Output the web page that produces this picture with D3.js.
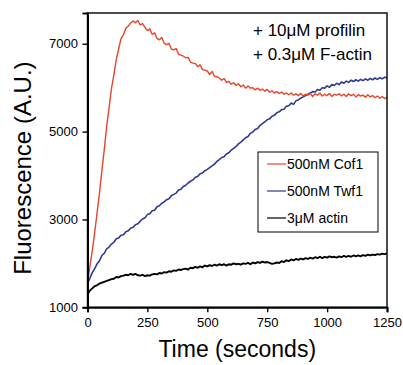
<!DOCTYPE html>
<html>
<head>
<meta charset="utf-8">
<script src="https://d3js.org/d3.v7.min.js"></script>
<style>
  body { margin: 0; background: #fff; }
  text { font-family: "Liberation Sans", Arial, Helvetica, sans-serif; }
</style>
</head>
<body>
<div id="vis"></div>
<script>
// sample times (seconds), one reading every 10 s
var times = d3.range(0, 1260, 10);

// 500nM Cof1
var cof1 = [
  1550, 1930, 2290, 2700, 3150, 3600, 4110, 4590, 5120, 5540,
  5980, 6290, 6640, 6880, 7120, 7210, 7350, 7400, 7470, 7520,
  7480, 7530, 7430, 7460, 7370, 7300, 7340, 7210, 7250, 7120,
  7090, 7140, 7010, 6980, 7010, 6880, 6860, 6890, 6760, 6740,
  6720, 6680, 6690, 6580, 6560, 6550, 6480, 6520, 6410, 6400,
  6380, 6300, 6370, 6260, 6250, 6220, 6170, 6210, 6120, 6140,
  6080, 6110, 6050, 6090, 6020, 6060, 5990, 6040, 5990, 6000,
  5950, 5990, 5940, 5970, 5920, 5960, 5900, 5930, 5880, 5910,
  5870, 5900, 5850, 5880, 5840, 5880, 5830, 5860, 5820, 5870,
  5810, 5850, 5830, 5870, 5800, 5860, 5830, 5880, 5810, 5850,
  5820, 5870, 5800, 5850, 5830, 5860, 5810, 5850, 5800, 5860,
  5820, 5850, 5790, 5840, 5810, 5830, 5780, 5840, 5790, 5820,
  5770, 5810, 5760, 5800, 5750, 5780
];

// 500nM Twf1
var twf1 = [
  1550, 1660, 1790, 1880, 1990, 2060, 2180, 2230, 2330, 2370,
  2440, 2480, 2560, 2580, 2640, 2650, 2720, 2740, 2800, 2820,
  2880, 2900, 2960, 3010, 3040, 3110, 3130, 3200, 3210, 3290,
  3310, 3370, 3400, 3450, 3470, 3540, 3570, 3600, 3670, 3690,
  3750, 3780, 3830, 3870, 3900, 3960, 3980, 4040, 4060, 4110,
  4140, 4180, 4220, 4260, 4320, 4360, 4410, 4430, 4490, 4520,
  4580, 4620, 4660, 4720, 4760, 4810, 4860, 4890, 4960, 4990,
  5050, 5070, 5140, 5180, 5220, 5270, 5290, 5350, 5370, 5430,
  5450, 5500, 5510, 5580, 5590, 5650, 5620, 5700, 5720, 5760,
  5790, 5820, 5850, 5880, 5910, 5900, 5960, 5940, 6000, 5990,
  6040, 6010, 6070, 6050, 6100, 6070, 6130, 6100, 6150, 6120,
  6170, 6140, 6180, 6150, 6190, 6160, 6200, 6170, 6210, 6180,
  6220, 6190, 6230, 6200, 6240, 6220
];

// 3uM actin alone
var actin = [
  1300, 1380, 1430, 1480, 1500, 1540, 1560, 1580, 1600, 1620,
  1640, 1650, 1690, 1680, 1710, 1720, 1740, 1730, 1760, 1740,
  1760, 1730, 1720, 1740, 1710, 1730, 1720, 1750, 1760, 1750,
  1780, 1770, 1800, 1790, 1820, 1810, 1840, 1830, 1860, 1850,
  1870, 1880, 1860, 1900, 1890, 1920, 1900, 1930, 1910, 1950,
  1930, 1960, 1940, 1970, 1950, 1980, 1960, 1980, 1950, 1980,
  1970, 2000, 1980, 1990, 1970, 2000, 1990, 2010, 1980, 2020,
  2000, 2030, 2010, 2040, 2020, 2030, 2010, 1990, 2000, 2020,
  2010, 2050, 2030, 2070, 2050, 2090, 2070, 2100, 2080, 2110,
  2090, 2120, 2100, 2130, 2110, 2140, 2120, 2150, 2120, 2150,
  2130, 2160, 2140, 2150, 2130, 2160, 2140, 2170, 2150, 2170,
  2150, 2180, 2160, 2180, 2160, 2190, 2170, 2200, 2180, 2200,
  2190, 2210, 2200, 2220, 2210, 2230
];

var xTicks = [0, 250, 500, 750, 1000, 1250];
var yTicks = [1000, 3000, 5000, 7000];
var seriesNames = ["500nM Cof1", "500nM Twf1", "3\u03bcM actin"];
var seriesColors = ["#e8462c", "#2e3a93", "#000000"];
var notes = ["+ 10\u03bcM profilin", "+ 0.3\u03bcM F-actin"];

var width = 403;
var height = 365;
var margin = { top: 13, right: 16, bottom: 57.7, left: 87.5 };
var innerW = width - margin.left - margin.right;
var innerH = height - margin.top - margin.bottom;

var svg = d3.select("#vis")
            .append("svg")
            .attr("width", width)
            .attr("height", height);

var g = svg.append("g")
           .attr("transform", "translate(" + margin.left + "," + margin.top + ")");

var x = d3.scaleLinear().domain([0, 1250]).range([0, innerW]);
var y = d3.scaleLinear().domain([1000, 7700]).range([innerH, 0]);

// curves, black first so the coloured ones sit on top
var series = [actin, twf1, cof1];
var seriesCol = [seriesColors[2], seriesColors[1], seriesColors[0]];
var seriesW = [1.9, 1.6, 1.4];

var line = d3.line()
    .x(function(d, i) { return x(times[i]); })
    .y(function(d) { return y(d); });

series.forEach(function(s, k) {
    g.append("path")
        .datum(s)
        .attr("fill", "none")
        .attr("stroke", seriesCol[k])
        .attr("stroke-width", seriesW[k])
        .attr("stroke-linejoin", "round")
        .attr("d", line);
});

// frame
g.append("rect")
    .attr("width", innerW)
    .attr("height", innerH)
    .attr("fill", "none")
    .attr("stroke", "#000")
    .attr("stroke-width", 1.4);

// axes
var xAxis = g.append("g")
    .attr("transform", "translate(0," + innerH + ")")
    .call(d3.axisBottom(x).tickValues(xTicks).tickFormat(d3.format("d"))
            .tickSize(5).tickPadding(5.5));

var yAxis = g.append("g")
    .call(d3.axisLeft(y).tickValues(yTicks).tickFormat(d3.format("d"))
            .tickSize(5).tickPadding(4.5));

[xAxis, yAxis].forEach(function(a) {
    a.select(".domain").attr("stroke-width", 2);
    a.selectAll(".tick line").attr("stroke-width", 1.4);
    a.selectAll("text")
        .attr("font-family", "'Liberation Sans', Arial, sans-serif")
        .attr("font-size", 13)
        .attr("fill", "#000");
});

// axis titles
svg.append("text")
    .attr("x", margin.left + innerW / 2)
    .attr("y", 357)
    .attr("text-anchor", "middle")
    .attr("font-size", 23)
    .text("Time (seconds)");

svg.append("text")
    .attr("transform", "translate(31," + (margin.top + innerH / 2 + 8) + ") rotate(-90)")
    .attr("text-anchor", "middle")
    .attr("font-size", 24)
    .text("Fluorescence (A.U.)");

// conditions note, top right
svg.selectAll(".note")
    .data(notes)
    .enter().append("text")
    .attr("class", "note")
    .attr("x", 253)
    .attr("y", function(d, i) { return 36 + i * 24; })
    .attr("font-size", 17)
    .text(function(d) { return d; });

// legend
var legend = svg.append("g").attr("transform", "translate(258,152)");

legend.append("rect")
    .attr("width", 120)
    .attr("height", 80)
    .attr("fill", "#fff")
    .attr("stroke", "#000")
    .attr("stroke-width", 1);

var rows = legend.selectAll(".row")
    .data(seriesNames)
    .enter().append("g")
    .attr("class", "row")
    .attr("transform", function(d, i) { return "translate(0," + (12 + i * 27) + ")"; });

rows.append("line")
    .attr("x1", 9)
    .attr("x2", 28)
    .attr("stroke", function(d, i) { return seriesColors[i]; })
    .attr("stroke-width", 1.2);

rows.append("text")
    .attr("x", 29)
    .attr("y", 5)
    .attr("font-size", 14)
    .text(function(d) { return d; });
</script>
</body>
</html>
